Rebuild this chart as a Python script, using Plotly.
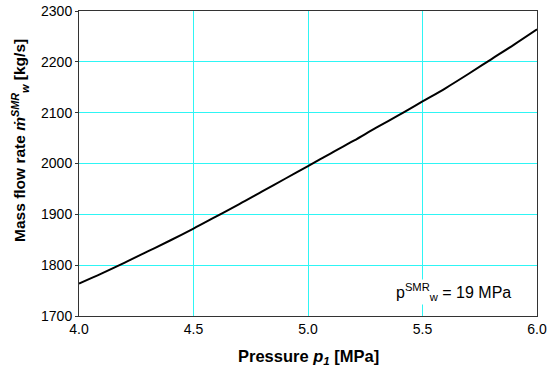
import plotly.graph_objects as go

pressure = [4.0, 4.1, 4.2, 4.3, 4.4, 4.5, 4.6, 4.7, 4.8, 4.9, 5.0,
            5.1, 5.2, 5.3, 5.4, 5.5, 5.6, 5.7, 5.8, 5.9, 6.0]
mass_flow = [1764, 1784, 1805, 1827, 1849, 1872, 1896, 1920, 1945, 1970, 1995,
             2020, 2045, 2071, 2096, 2122, 2148, 2176, 2205, 2234, 2264]

x_ticks = [4.0, 4.5, 5.0, 5.5, 6.0]
x_tick_labels = ["4.0", "4.5", "5.0", "5.5", "6.0"]
y_ticks = [1700, 1800, 1900, 2000, 2100, 2200, 2300]

FONT = "Liberation Sans, Arial, sans-serif"
GRID = "#2EF5F5"

fig = go.Figure()
fig.add_trace(go.Scatter(x=pressure, y=mass_flow, mode="lines",
                         line=dict(color="black", width=2), line_shape="spline",
                         showlegend=False, hoverinfo="skip"))

fig.update_layout(
    width=550, height=371,
    margin=dict(l=79, r=13, t=11, b=55, autoexpand=False),
    paper_bgcolor="white", plot_bgcolor="white",
    font=dict(family=FONT, size=14, color="black"),
    xaxis=dict(range=[4.0, 6.0], tickvals=x_ticks, ticktext=x_tick_labels,
               showgrid=True, gridcolor=GRID, gridwidth=1.2,
               showline=True, linecolor="#333333", linewidth=1, mirror=True,
               ticks="", zeroline=False, tickfont=dict(size=14),
               automargin=False, ticklabeloverflow="allow"),
    yaxis=dict(range=[1700, 2300], tickvals=y_ticks,
               showgrid=True, gridcolor=GRID, gridwidth=1.2,
               showline=True, linecolor="#333333", linewidth=1, mirror=True,
               ticks="outside", ticklen=3, tickcolor="#333333",
               zeroline=False, tickfont=dict(size=14), automargin=False,
               ticklabeloverflow="allow"),
)

fig.add_annotation(
    text="<b>Pressure <i>p<sub>1</sub></i> [MPa]</b>",
    xref="paper", yref="paper", x=0.5, y=-0.135, yanchor="middle",
    showarrow=False, font=dict(family=FONT, size=16.5, color="black"))

fig.add_annotation(
    text="<b>Mass flow rate <i>ṁ</i><sup><i>SMR</i></sup><sub><i>w</i></sub> [kg/s]</b>",
    xref="paper", yref="paper", x=-0.129, y=0.577, textangle=-90,
    xanchor="center", yanchor="middle",
    showarrow=False, font=dict(family=FONT, size=15.5, color="black"))

fig.add_annotation(
    text="p<sup>SMR</sup><sub>w</sub> = 19 MPa",
    xref="paper", yref="paper", x=0.948, y=0.079,
    xanchor="right", yanchor="middle", bgcolor="white",
    showarrow=False, font=dict(family=FONT, size=16, color="black"))

# remove the browser's default 8px body margin so the figure sits at (0, 0)
fig.write_html("out.html", config={"displayModeBar": False},
               post_script="document.body.style.margin='0';")
